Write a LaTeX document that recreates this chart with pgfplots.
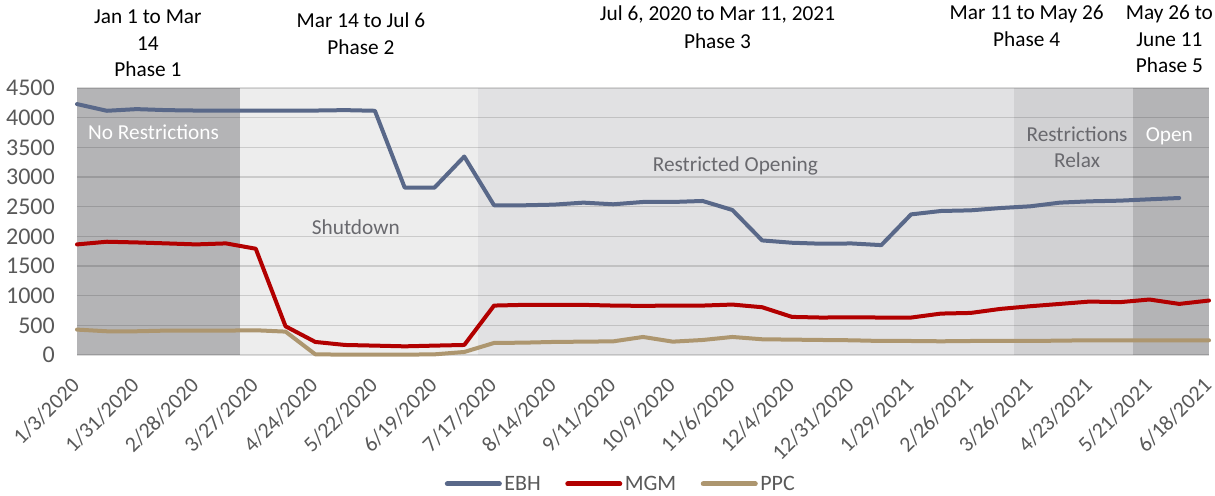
\documentclass[border=0pt]{standalone}
\usepackage{fontspec}
\setmainfont{Carlito}
\usepackage{pgfplots}
\pgfplotsset{compat=1.18}
\definecolor{ebh}{RGB}{89,104,137}
\definecolor{mgm}{RGB}{178,0,0}
\definecolor{ppc}{RGB}{173,150,111}
\definecolor{phA}{RGB}{180,180,182}
\definecolor{phB}{RGB}{237,237,237}
\definecolor{phC}{RGB}{225,225,227}
\definecolor{phD}{RGB}{209,209,211}
\definecolor{phE}{RGB}{180,180,182}
\definecolor{ticktext}{RGB}{89,89,89}
\definecolor{inlbl}{RGB}{105,105,110}
\newcommand{\tickfont}{\fontsize{24bp}{29bp}\selectfont}
\newcommand{\xtickfont}{\fontsize{21.8bp}{26bp}\selectfont}
\newcommand{\lblfont}{\fontsize{21.3bp}{26bp}\selectfont}
\newcommand{\legfont}{\fontsize{22bp}{26bp}\selectfont}
\begin{document}
\begin{tikzpicture}
\begin{axis}[
  set layers,
  scale only axis,
  width=1132bp, height=267bp,
  xmin=0, xmax=38, ymin=0, ymax=4500,
  clip=false,
  axis line style={draw=none},
  tick style={draw=none},
  ytick={0,500,...,4500},
  xtick={0,2,...,38},
  xticklabels={1/3/2020,1/31/2020,2/28/2020,3/27/2020,4/24/2020,5/22/2020,6/19/2020,7/17/2020,8/14/2020,9/11/2020,10/9/2020,11/6/2020,12/4/2020,12/31/2020,1/29/2021,2/26/2021,3/26/2021,4/23/2021,5/21/2021,6/18/2021},
  ymajorgrids,
  grid style={black, opacity=0.14, line width=1.2bp},
  /pgf/number format/assume math mode=true,
  /pgf/number format/1000 sep={},
  scaled ticks=false,
  yticklabel style={font=\tickfont, text=ticktext, anchor=east, inner sep=0pt, xshift=-22bp},
  xticklabel shift=21bp,
  xticklabel style={font=\xtickfont, text=ticktext, xshift=-7bp, rotate=45, anchor=north east, inner sep=0pt},
  legend style={at={(0.4806,-0.483)}, anchor=center, draw=none, fill=none,
    legend columns=3, font=\legfont, text=ticktext,
    /tikz/every even column/.append style={column sep=22bp},
    nodes={inner sep=2.5bp}},
  legend image code/.code={\draw[#1, line width=5bp, line cap=round] (0bp,0bp) -- (52bp,0bp);},
]
% phase shading
\addplot[forget plot, on layer=axis background, fill=phA, draw=none] coordinates {(0,4500) (5.47,4500)} \closedcycle;
\addplot[forget plot, on layer=axis background, fill=phB, draw=none] coordinates {(5.47,4500) (13.46,4500)} \closedcycle;
\addplot[forget plot, on layer=axis background, fill=phC, draw=none] coordinates {(13.46,4500) (31.45,4500)} \closedcycle;
\addplot[forget plot, on layer=axis background, fill=phD, draw=none] coordinates {(31.45,4500) (35.45,4500)} \closedcycle;
\addplot[forget plot, on layer=axis background, fill=phE, draw=none] coordinates {(35.45,4500) (38,4500)} \closedcycle;

\addplot[ebh, line width=4bp, line join=round, line cap=round] coordinates {
(0,4229) (1,4116) (2,4144) (3,4127) (4,4120) (5,4120) (6,4120) (7,4120) (8,4120) (9,4127)
(10,4116) (11,2821) (12,2821) (13,3345) (14,2523) (15,2523) (16,2534) (17,2568) (18,2540) (19,2579)
(20,2579) (21,2596) (22,2444) (23,1931) (24,1892) (25,1875) (26,1880) (27,1852) (28,2370) (29,2427)
(30,2438) (31,2477) (32,2506) (33,2568) (34,2590) (35,2601) (36,2624) (37,2646)};
\addlegendentry{EBH}
\addplot[mgm, line width=4bp, line join=round, line cap=round] coordinates {
(0,1864) (1,1909) (2,1897) (3,1881) (4,1864) (5,1881) (6,1791) (7,484) (8,220) (9,169)
(10,158) (11,146) (12,158) (13,169) (14,833) (15,845) (16,845) (17,845) (18,833) (19,828)
(20,833) (21,833) (22,850) (23,805) (24,642) (25,631) (26,636) (27,631) (28,631) (29,698)
(30,709) (31,777) (32,822) (33,861) (34,901) (35,890) (36,935) (37,861) (38,918)};
\addlegendentry{MGM}
\addplot[ppc, line width=4bp, line join=round, line cap=round] coordinates {
(0,428) (1,400) (2,400) (3,411) (4,411) (5,411) (6,417) (7,394) (8,11) (9,6)
(10,6) (11,6) (12,11) (13,51) (14,203) (15,208) (16,220) (17,225) (18,230) (19,304)
(20,225) (21,253) (22,304) (23,265) (24,259) (25,253) (26,248) (27,236) (28,236) (29,231)
(30,236) (31,236) (32,236) (33,242) (34,248) (35,248) (36,248) (37,248) (38,248)};
\addlegendentry{PPC}

% labels inside the plot
\node[anchor=base, font=\lblfont, text=white] at (axis cs:2.57,3640) {No Restrictions};
\node[anchor=base, font=\lblfont, text=inlbl] at (axis cs:9.36,2039) {Shutdown};
\node[anchor=base, font=\lblfont, text=inlbl] at (axis cs:22.1,3101) {Restricted Opening};
\node[anchor=base, font=\lblfont, text=inlbl] at (axis cs:33.57,3590) {Restrictions};
\node[anchor=base, font=\lblfont, text=inlbl] at (axis cs:33.57,3152) {Relax};
\node[anchor=base, font=\lblfont, text=white] at (axis cs:36.67,3590) {Open};

% phase titles above the plot
\node[anchor=base, font=\lblfont, yshift=64bp] at (axis cs:2.38,4500) {Jan 1 to Mar};
\node[anchor=base, font=\lblfont, yshift=38bp] at (axis cs:2.38,4500) {14};
\node[anchor=base, font=\lblfont, yshift=12bp] at (axis cs:2.38,4500) {Phase 1};
\node[anchor=base, font=\lblfont, yshift=60bp] at (axis cs:9.53,4500) {Mar 14 to Jul 6};
\node[anchor=base, font=\lblfont, yshift=34bp] at (axis cs:9.53,4500) {Phase 2};
\node[anchor=base, font=\lblfont, yshift=67bp] at (axis cs:21.5,4500) {Jul 6, 2020 to Mar 11, 2021};
\node[anchor=base, font=\lblfont, yshift=40bp] at (axis cs:21.5,4500) {Phase 3};
\node[anchor=base, font=\lblfont, yshift=68bp] at (axis cs:31.88,4500) {Mar 11 to May 26};
\node[anchor=base, font=\lblfont, yshift=42bp] at (axis cs:31.88,4500) {Phase 4};
\node[anchor=base, font=\lblfont, yshift=68bp] at (axis cs:36.67,4500) {May 26 to};
\node[anchor=base, font=\lblfont, yshift=42bp] at (axis cs:36.67,4500) {June 11};
\node[anchor=base, font=\lblfont, yshift=16bp] at (axis cs:36.67,4500) {Phase 5};
\end{axis}
\pgfresetboundingbox
\path[use as bounding box] ([shift={(-77bp,-141bp)}]current axis.south west) rectangle ([shift={(6bp,88bp)}]current axis.north east);
\end{tikzpicture}
\end{document}
